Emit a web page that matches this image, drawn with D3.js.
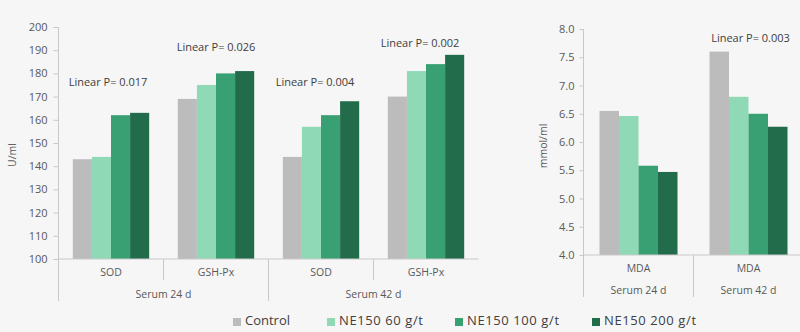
<!DOCTYPE html>
<html>
<head>
<meta charset="utf-8">
<script src="https://cdn.jsdelivr.net/npm/d3@7"></script>
<style>
  body { margin: 0; background: #f6f6f6; }
  svg { display: block; font-family: "Open Sans", sans-serif; }
</style>
</head>
<body>
<svg id="chart" width="800" height="332"></svg>
<script>
const series = ["Control", "NE150 60 g/t", "NE150 100 g/t", "NE150 200 g/t"];
const colors = ["#bcbcbc", "#8fd9b7", "#38a073", "#226c4c"];

// enzyme activities, U/ml
const enzymeCats = [
  { name: "SOD", period: "Serum 24 d" },
  { name: "GSH-Px", period: "Serum 24 d" },
  { name: "SOD", period: "Serum 42 d" },
  { name: "GSH-Px", period: "Serum 42 d" }
];
const enzymeValues = [
  [143, 144, 162, 163],
  [169, 175, 180, 181],
  [144, 157, 162, 168],
  [170, 181, 184, 188]
];
const enzymePLabels = ["Linear P= 0.017", "Linear P= 0.026", "Linear P= 0.004", "Linear P= 0.002"];
const enzymePAt = [175.8, 190.9, 175.8, 192.6];
const enzymeTicks = [100, 110, 120, 130, 140, 150, 160, 170, 180, 190, 200];

// malondialdehyde, mmol/ml
const mdaCats = [
  { name: "MDA", period: "Serum 24 d" },
  { name: "MDA", period: "Serum 42 d" }
];
const mdaValues = [
  [6.55, 6.46, 5.58, 5.47],
  [7.6, 6.8, 6.5, 6.27]
];
const mdaPLabels = [null, "Linear P= 0.003"];
const mdaPAt = [null, 7.82];
const mdaTicks = [4.0, 4.5, 5.0, 5.5, 6.0, 6.5, 7.0, 7.5, 8.0];

const svg = d3.select("#chart");
const axisColor = "#c9c9c9";
const textColor = "#595959";

function drawPanel(opt) {
  const g = svg.append("g");
  const x0 = d3.scaleBand()
    .domain(d3.range(opt.cats.length))
    .range([opt.left, opt.right]);
  const x1 = d3.scaleBand()
    .domain(series)
    .range([0, x0.bandwidth()])
    .paddingOuter(opt.outer);
  const y = d3.scaleLinear().domain(opt.domain).range([opt.bottom, opt.top]);

  // bars
  opt.cats.forEach((c, i) => {
    g.append("g")
      .attr("transform", `translate(${x0(i)},0)`)
      .selectAll("rect")
      .data(opt.values[i])
      .join("rect")
      .attr("x", (d, j) => x1(series[j]))
      .attr("y", d => y(d))
      .attr("width", x1.bandwidth())
      .attr("height", d => y(opt.domain[0]) - y(d))
      .attr("fill", (d, j) => colors[j]);
  });

  // y axis
  const ya = g.append("g")
    .attr("transform", `translate(${opt.left},0)`)
    .call(d3.axisLeft(y).tickValues(opt.ticks).tickFormat(opt.fmt)
      .tickSize(opt.tickSize).tickPadding(opt.tickPad));
  ya.select(".domain").remove();
  ya.selectAll("line").attr("stroke", axisColor);
  ya.selectAll("text").attr("fill", textColor).style("font-size", "11px")
    .style("font-family", "Open Sans");

  g.append("line")
    .attr("x1", opt.left).attr("x2", opt.left)
    .attr("y1", opt.top).attr("y2", opt.periodBottom)
    .attr("stroke", axisColor);

  // category axis
  g.append("line")
    .attr("x1", opt.left).attr("x2", opt.right)
    .attr("y1", opt.bottom).attr("y2", opt.bottom)
    .attr("stroke", axisColor);

  opt.cats.forEach((c, i) => {
    g.append("text")
      .attr("x", x0(i) + x0.bandwidth() / 2)
      .attr("y", opt.nameY)
      .attr("text-anchor", "middle")
      .attr("dominant-baseline", "middle")
      .attr("fill", textColor)
      .style("font-size", "10.5px")
      .text(c.name);
    if (i > 0) {
      const newPeriod = c.period !== opt.cats[i - 1].period;
      g.append("line")
        .attr("x1", x0(i)).attr("x2", x0(i))
        .attr("y1", opt.bottom)
        .attr("y2", newPeriod ? opt.periodBottom : opt.nameBottom)
        .attr("stroke", axisColor);
    }
  });

  const periods = d3.groups(d3.range(opt.cats.length), i => opt.cats[i].period);
  periods.forEach(([p, idx]) => {
    const a = x0(idx[0]);
    const b = x0(idx[idx.length - 1]) + x0.bandwidth();
    g.append("text")
      .attr("x", (a + b) / 2)
      .attr("y", opt.periodY)
      .attr("text-anchor", "middle")
      .attr("dominant-baseline", "middle")
      .attr("fill", textColor)
      .style("font-size", "10.5px")
      .text(p);
  });

  // trend labels
  opt.pLabels.forEach((t, i) => {
    if (!t) return;
    g.append("text")
      .attr("x", x0(i) + x0.bandwidth() / 2 + opt.pShift[i])
      .attr("y", y(opt.pAt[i]))
      .attr("text-anchor", "middle")
      .attr("dominant-baseline", "middle")
      .attr("fill", "#404040")
      .style("font-size", "11px")
      .text(t);
  });

  // axis title
  g.append("text")
    .attr("transform", `translate(${opt.titleX},${opt.titleY}) rotate(-90)`)
    .attr("text-anchor", "middle")
    .attr("dominant-baseline", "middle")
    .attr("fill", textColor)
    .style("font-size", "10.5px")
    .text(opt.title);
}

drawPanel({
  cats: enzymeCats, values: enzymeValues, domain: [100, 200], ticks: enzymeTicks,
  fmt: d3.format("d"), left: 58.5, right: 478.5, top: 27, bottom: 259, outer: 0.75,
  tickSize: 5, tickPad: 6, nameY: 273, nameBottom: 280, periodY: 295, periodBottom: 301,
  pLabels: enzymePLabels, pAt: enzymePAt, pShift: [-3, 0, -6, -6],
  title: "U/ml", titleX: 13, titleY: 155
});

drawPanel({
  cats: mdaCats, values: mdaValues, domain: [4, 8], ticks: mdaTicks,
  fmt: d3.format(".1f"), left: 583.5, right: 803.5, top: 29, bottom: 255, outer: 0.82,
  tickSize: 4, tickPad: 5, nameY: 269, nameBottom: 297, periodY: 291, periodBottom: 297,
  pLabels: mdaPLabels, pAt: mdaPAt, pShift: [0, 2],
  title: "mmol/ml", titleX: 544, titleY: 146
});

// legend, one entry per series
const legendX = [233, 327, 455, 592];
const legend = svg.append("g").attr("transform", "translate(0,322)");
series.forEach((s, i) => {
  legend.append("rect")
    .attr("x", legendX[i]).attr("y", -4)
    .attr("width", 8).attr("height", 8)
    .attr("fill", colors[i]);
  legend.append("text")
    .attr("x", legendX[i] + 12)
    .attr("dominant-baseline", "middle")
    .attr("fill", "#404040")
    .style("font-size", "13px")
    .style("letter-spacing", i > 0 ? "0.6px" : "0px")
    .text(s);
});
</script>
</body>
</html>
